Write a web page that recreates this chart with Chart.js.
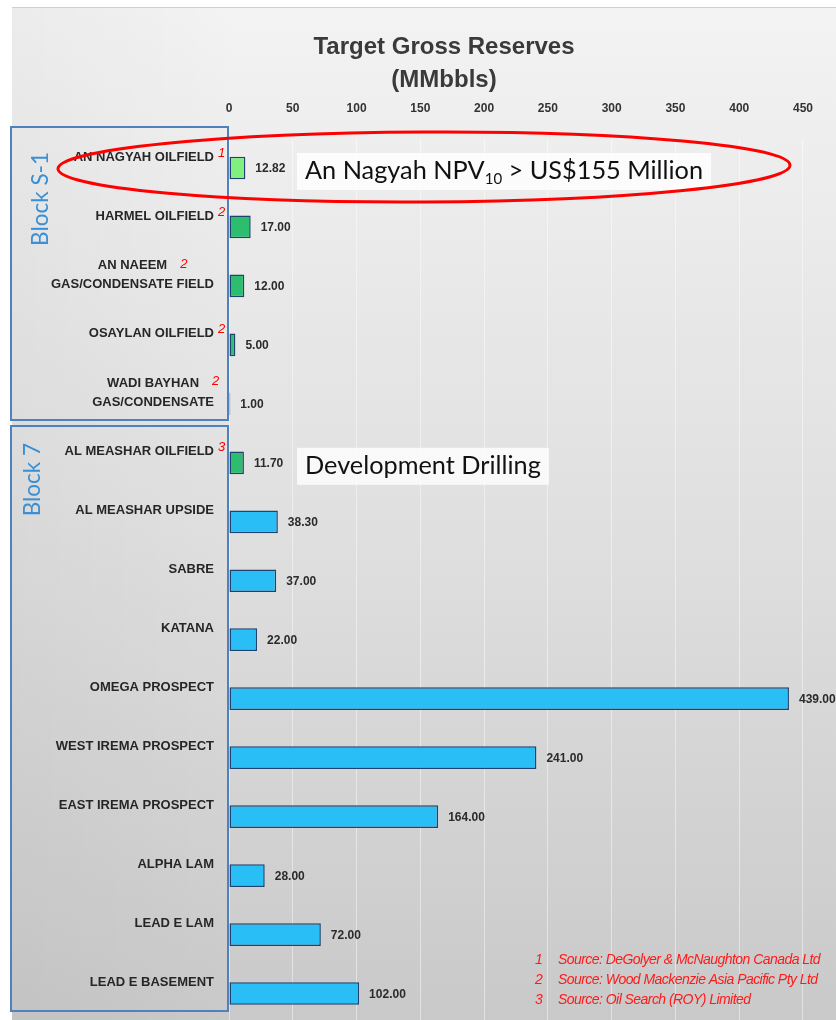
<!DOCTYPE html>
<html><head><meta charset="utf-8">
<script src="https://cdn.jsdelivr.net/npm/chart.js@4.4.1/dist/chart.umd.min.js"></script>
<style>html,body{margin:0;padding:0;overflow:hidden;background:#fff}canvas{display:block}</style>
</head><body>
<canvas id="c" width="836" height="1023"></canvas>
<script>
// ---- data ----
const categories = [
  ['AN NAGYAH OILFIELD'],
  ['HARMEL OILFIELD'],
  ['AN NAEEM', 'GAS/CONDENSATE FIELD'],
  ['OSAYLAN OILFIELD'],
  ['WADI BAYHAN', 'GAS/CONDENSATE'],
  ['AL MEASHAR OILFIELD'],
  ['AL MEASHAR UPSIDE'],
  ['SABRE'],
  ['KATANA'],
  ['OMEGA PROSPECT'],
  ['WEST IREMA PROSPECT'],
  ['EAST IREMA PROSPECT'],
  ['ALPHA LAM'],
  ['LEAD E LAM'],
  ['LEAD E BASEMENT']
];
const reserves = [12.82, 17.00, 12.00, 5.00, 1.00, 11.70, 38.30, 37.00, 22.00, 439.00, 241.00, 164.00, 28.00, 72.00, 102.00];
const fieldClass = ['npv', 'field', 'field', 'field', 'field', 'field', 'prospect', 'prospect', 'prospect', 'prospect', 'prospect', 'prospect', 'prospect', 'prospect', 'prospect'];
const sourceRef = ['1', '2', '2', '2', '2', '3', '', '', '', '', '', '', '', '', ''];
const xTickValues = [0, 50, 100, 150, 200, 250, 300, 350, 400, 450];
const blockNames = ['Block S-1', 'Block 7'];
const chartTitle = ['Target Gross Reserves', '(MMbbls)'];
const calloutRows = [0, 5];
const calloutTexts = [['An Nagyah NPV', '10', ' > US$155 Million'], ['Development Drilling', '', '']];
const sourceNums = ['1', '2', '3'];
const sourceTexts = ['Source: DeGolyer & McNaughton Canada Ltd', 'Source: Wood Mackenzie Asia Pacific Pty Ltd', 'Source: Oil Search (ROY) Limited'];

// ---- styles ----
const palette = { npv: '#80f07e', field: '#2dbd6e', prospect: '#29bef5' };
const SANS = '"Liberation Sans", Arial, sans-serif';
const CAL = 'Lato, "Open Sans", sans-serif';

const deco = {
  id: 'deco',
  beforeDraw(chart) {
    const c = chart.ctx, W = chart.width, H = chart.height;
    c.save();
    c.fillStyle = '#ffffff'; c.fillRect(0, 0, W, H);
    const g = c.createLinearGradient(0, 8, 0, H);
    g.addColorStop(0, '#f3f3f3'); g.addColorStop(0.5, '#e0e0e0'); g.addColorStop(1, '#c9c9c9');
    c.fillStyle = g; c.fillRect(12, 8, W - 12, H - 8);
    const g2 = c.createLinearGradient(12, 0, 240, 0);
    g2.addColorStop(0, 'rgba(0,0,0,0.03)'); g2.addColorStop(1, 'rgba(0,0,0,0)');
    c.fillStyle = g2; c.fillRect(12, 8, 228, H - 8);
    c.strokeStyle = '#cfcfcf'; c.lineWidth = 1;
    c.beginPath(); c.moveTo(12, 7.5); c.lineTo(W, 7.5); c.stroke();
    // title
    c.fillStyle = '#3a3a3a'; c.textAlign = 'center'; c.textBaseline = 'middle';
    c.font = 'bold 24px ' + SANS;
    c.fillText(chartTitle[0], 444, 47);
    c.fillText(chartTitle[1], 444, 80);
    c.restore();
  },
  afterDatasetsDraw(chart) {
    const c = chart.ctx, xs = chart.scales.x, ys = chart.scales.y;
    const x0 = xs.getPixelForValue(0);
    c.save();
    // data labels
    c.font = 'bold 12px ' + SANS; c.fillStyle = '#2b2b2b';
    c.textAlign = 'left'; c.textBaseline = 'middle';
    reserves.forEach((v, i) => {
      c.fillText(v.toFixed(2), xs.getPixelForValue(v) + 10, ys.getPixelForValue(i) + 1);
    });
    // category labels
    const labelRight = x0 - 15;
    categories.forEach((lines, i) => {
      const cy = ys.getPixelForValue(i);
      c.font = 'bold 13px ' + SANS; c.fillStyle = '#262626'; c.textBaseline = 'middle';
      let refX, refY;
      if (lines.length === 1) {
        c.textAlign = 'right';
        c.fillText(lines[0], labelRight, cy - 11);
        refX = labelRight + 4; refY = cy - 15;
      } else {
        const w = Math.max(...lines.map(s => c.measureText(s).width));
        const mid = labelRight - w / 2;
        c.textAlign = 'center';
        c.fillText(lines[0], mid, cy - 20);
        c.fillText(lines[1], mid, cy - 1);
        refX = mid + c.measureText(lines[0]).width / 2 + 13; refY = cy - 22;
      }
      if (sourceRef[i]) {
        c.font = 'italic 13px ' + SANS; c.fillStyle = '#ff0000'; c.textAlign = 'left';
        c.fillText(sourceRef[i], refX, refY);
      }
    });
    // block boxes
    const blockRects = [[11, 127, 217, 293], [11, 426, 217, 585]];
    c.strokeStyle = '#4f81bd'; c.lineWidth = 2;
    blockRects.forEach(r => c.strokeRect(r[0], r[1], r[2], r[3]));
    c.fillStyle = '#3b8fd4'; c.font = '22.5px ' + CAL; c.textAlign = 'right'; c.textBaseline = 'middle';
    const blockText = [[41, 152], [33, 443]];
    blockNames.forEach((n, i) => {
      c.save(); c.translate(blockText[i][0], blockText[i][1]); c.rotate(-Math.PI / 2);
      c.fillText(n, 0, 0); c.restore();
    });
    // callouts
    calloutRows.forEach((row, i) => {
      const cy = ys.getPixelForValue(row) + 3;
      const [a, sub, b] = calloutTexts[i];
      c.font = '25.3px ' + CAL;
      const wa = c.measureText(a).width, wb = c.measureText(b).width;
      c.font = '15px ' + CAL;
      const ws = sub ? c.measureText(sub).width : 0;
      const bx = 297, tw = wa + ws + wb;
      c.fillStyle = 'rgba(255,255,255,0.8)';
      c.fillRect(bx, cy - 18, tw + 16, 37);
      c.fillStyle = '#111'; c.textAlign = 'left'; c.textBaseline = 'middle';
      c.font = '25.3px ' + CAL; c.fillText(a, bx + 8, cy);
      if (sub) { c.font = '15px ' + CAL; c.fillText(sub, bx + 8 + wa, cy + 8); }
      if (b) { c.font = '25.3px ' + CAL; c.fillText(b, bx + 8 + wa + ws, cy); }
    });
    // ellipse
    c.strokeStyle = '#ff0000'; c.lineWidth = 3;
    c.beginPath(); c.ellipse(424, ys.getPixelForValue(0) - 1, 366, 35, -0.005, 0, Math.PI * 2); c.stroke();
    // footnotes
    c.font = 'italic 14px ' + SANS; c.fillStyle = '#ff1a1a'; c.textAlign = 'left'; c.textBaseline = 'middle';
    sourceTexts.forEach((t, i) => {
      c.letterSpacing = '0px';
      c.fillText(sourceNums[i], 535, 960 + i * 20);
      c.letterSpacing = '-0.55px';
      c.fillText(t, 558, 960 + i * 20);
    });
    c.letterSpacing = '0px';
    c.restore();
  }
};

new Chart(document.getElementById('c'), {
  type: 'bar',
  data: {
    labels: categories,
    datasets: [{
      data: reserves,
      backgroundColor: fieldClass.map(k => palette[k]),
      borderColor: '#1f426e',
      borderWidth: 1.5,
      borderSkipped: false,
      barPercentage: 0.385,
      categoryPercentage: 1
    }]
  },
  options: {
    indexAxis: 'y',
    responsive: false,
    animation: false,
    devicePixelRatio: 1,
    layout: { padding: { left: 229, right: 0, top: 0, bottom: 0 } },
    plugins: { legend: { display: false }, tooltip: { enabled: false }, title: { display: false } },
    scales: {
      x: {
        position: 'top', min: 0, max: 472,
        afterBuildTicks(s) { s.ticks = xTickValues.map(v => ({ value: v })); },
        ticks: { padding: 23, font: { family: SANS, weight: 'bold', size: 12 }, color: '#333' },
        grid: { color: 'rgba(255,255,255,0.45)', drawTicks: false, lineWidth: 1 },
        border: { display: false },
        afterFit(s) { s.height = 138.5; }
      },
      y: { display: false }
    }
  },
  plugins: [deco]
});
</script>
</body></html>
